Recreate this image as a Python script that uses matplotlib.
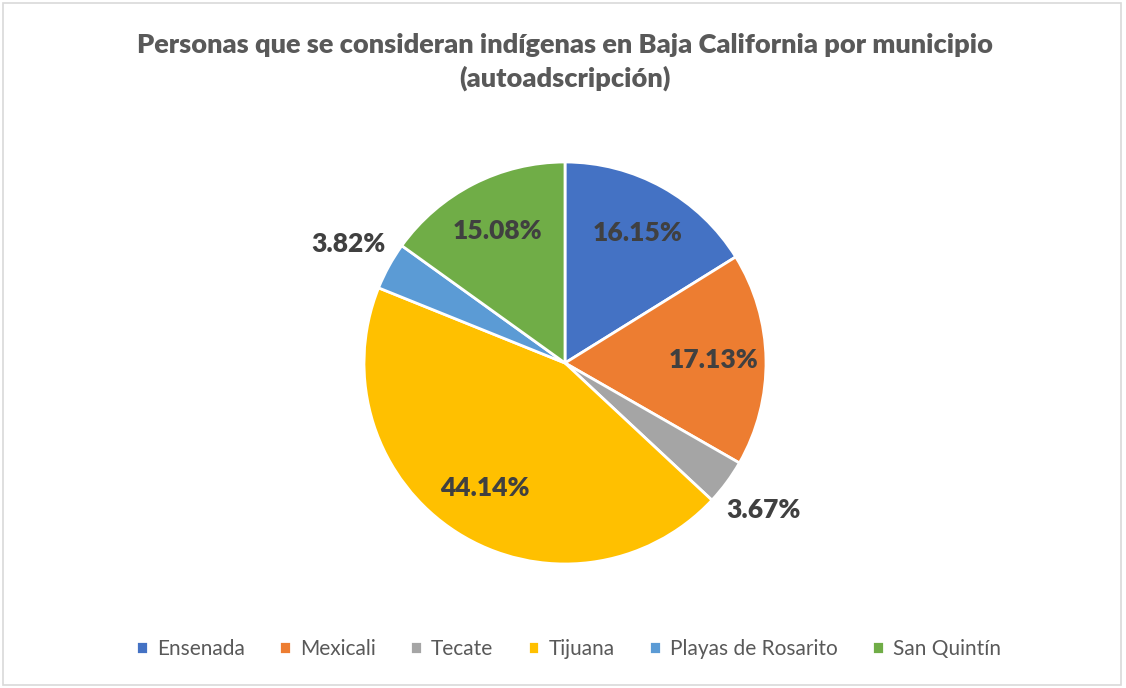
import numpy as np
import matplotlib
matplotlib.use('Agg')
import matplotlib.pyplot as plt
from matplotlib.patches import Rectangle

# --- data ---
municipios = ['Ensenada', 'Mexicali', 'Tecate', 'Tijuana', 'Playas de Rosarito', 'San Quintín']
porcentajes = [16.15, 17.13, 3.67, 44.14, 3.82, 15.08]
colores = ['#4472C4', '#ED7D31', '#A5A5A5', '#FFC000', '#5B9BD5', '#70AD47']
# small slices get their label outside the pie
fuera = [False, False, True, False, True, False]

plt.rcParams['font.family'] = ['Lato', 'DejaVu Sans']

fig = plt.figure(figsize=(11.26, 6.88), dpi=100)
fig.patch.set_facecolor('white')

# chart frame
fig.add_artist(Rectangle((0.003, 0.004), 0.993, 0.991, transform=fig.transFigure,
                         fill=False, edgecolor='#D9D9D9', linewidth=1.2))

# pie area: center ~ (565, 363) px, radius ~ 201 px
r_px = 201
cx, cy = 565, 363
ax = fig.add_axes([(cx - r_px) / 1126, (688 - cy - r_px) / 688,
                   2 * r_px / 1126, 2 * r_px / 688])
wedges, _ = ax.pie(porcentajes, colors=colores, startangle=90, counterclock=False,
                   radius=1.0, wedgeprops=dict(edgecolor='white', linewidth=2))
ax.set_xlim(-1, 1)
ax.set_ylim(-1, 1)
ax.set_aspect('equal')
ax.axis('off')

for w, p, out in zip(wedges, porcentajes, fuera):
    ang = np.deg2rad((w.theta1 + w.theta2) / 2)
    d = 1.23 if out else 0.74
    ax.text(d * np.cos(ang), d * np.sin(ang), f'{p:.2f}%', ha='center', va='center',
            fontsize=19, fontweight='heavy', color='#404040', clip_on=False)

fig.text(0.502, 0.934, 'Personas que se consideran indígenas en Baja California por municipio',
         ha='center', va='center', fontsize=19.5, fontweight='heavy', color='#595959')
fig.text(0.502, 0.886, '(autoadscripción)',
         ha='center', va='center', fontsize=19.5, fontweight='heavy', color='#595959')

leg = fig.legend(wedges, municipios, loc='center', bbox_to_anchor=(0.505, 0.057),
                 ncol=6, frameon=False, fontsize=15, handlelength=0.55, handleheight=0.55,
                 handletextpad=0.45, columnspacing=1.65)
for t in leg.get_texts():
    t.set_color('#595959')

fig.savefig('out.png', dpi=100, facecolor='white')
